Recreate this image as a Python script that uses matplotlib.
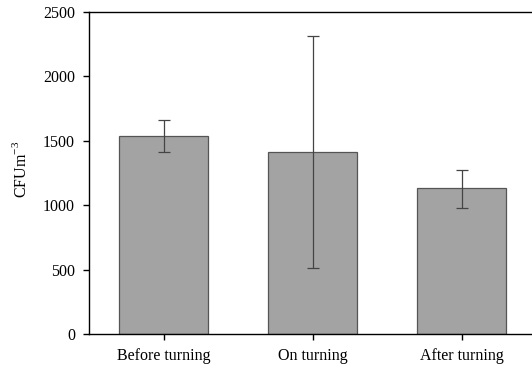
import matplotlib.pyplot as plt

categories = ['Before turning', 'On turning', 'After turning']
means = [1535, 1415, 1130]
err_low = [1410, 515, 980]
err_high = [1660, 2310, 1275]

plt.rcParams['font.family'] = ['Liberation Serif', 'DejaVu Serif']
plt.rcParams['font.size'] = 11.5

fig = plt.figure(figsize=(5.32, 3.70), dpi=100)
ax = fig.add_axes([89 / 532, 36 / 370, 447 / 532, 322 / 370])

x = list(range(len(categories)))
yerr = [[m - lo for m, lo in zip(means, err_low)],
        [hi - m for m, hi in zip(means, err_high)]]
ax.bar(x, means, width=0.6, color='#a3a3a3', edgecolor='#555555', linewidth=0.9)
ax.errorbar(x, means, yerr=yerr, fmt='none', ecolor='#444444', elinewidth=0.9,
            capsize=4.5, capthick=0.9)

ax.set_xlim(-0.5, 2.5)
ax.set_ylim(0, 2500)
ax.set_yticks([0, 500, 1000, 1500, 2000, 2500])
ax.set_xticks(x)
ax.set_xticklabels(categories)
ax.set_ylabel('CFUm$^{\\mathregular{-3}}$')
ax.yaxis.set_label_coords(-0.133, 0.51)
ax.spines['right'].set_visible(False)
for s in ['left', 'bottom', 'top']:
    ax.spines[s].set_linewidth(1.0)
ax.tick_params(direction='out', length=4, width=1.0, pad=6)

fig.savefig('out.png', dpi=100)
